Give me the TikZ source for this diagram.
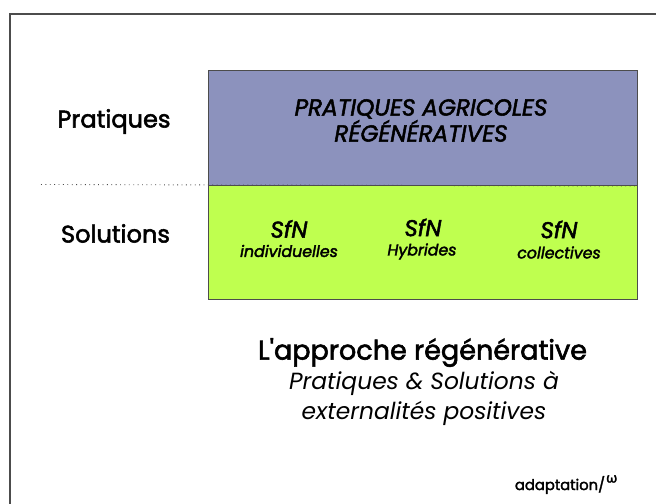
\documentclass[tikz,border=0pt]{standalone}
\usepackage{fontspec}
\setmainfont{Poppins}
\newfontfamily\medfont[FakeBold=2.2,Ligatures=NoCommon]{Poppins}
\newfontfamily\logofont[FakeBold=2.2]{Lato}
\tikzset{
    zone/.style={draw=black!70,line width=0.6pt},
    rowlabel/.style={font=\fontsize{13.7}{16}\selectfont\medfont},
    sfnlabel/.style={font=\fontsize{13}{14}\selectfont\medfont\itshape},
    sfnsub/.style={font=\fontsize{9}{10}\selectfont\medfont\itshape}
}
\definecolor{zoneblue}{HTML}{8C92BD}
\definecolor{zonegreen}{HTML}{BFFF4F}
\begin{document}
\begin{tikzpicture}
    \useasboundingbox (0,0) rectangle (13.12,10.08);
    \coordinate (fa) at (0.2,0);
    \coordinate (fb) at (0.2,9.8);
    \coordinate (fc) at (13.12,9.8);
    \draw[draw=black!70,line width=0.6pt] (fa) -- (fb) -- (fc);

    \node[zone,fill=zoneblue,minimum width=8.58cm,minimum height=2.3cm,anchor=north west,inner sep=0pt] (prat) at (4.16,8.68) {};
    \node[zone,fill=zonegreen,minimum width=8.58cm,minimum height=2.28cm,anchor=north west,inner sep=0pt] (sol) at (4.16,6.38) {};

    \coordinate (dot) at (0.82,6.39);
    \draw[dotted,black!70,line width=0.5pt] (dot) -- (prat.south east);

    \node[rowlabel] (lprat) at (2.28,7.65) {Pratiques};
    \node[rowlabel] (lsol) at (2.31,5.41) {Solutions};

    \node[align=center,font=\fontsize{13.2}{14.8}\selectfont\medfont\itshape] (ttl) at (8.42,7.67) {PRATIQUES AGRICOLES\\RÉGÉNÉRATIVES};

    \node[sfnlabel] (s1) at (5.78,5.50) {SfN};
    \node[sfnsub] (t1) at (5.78,5.06) {individuelles};
    \node[sfnlabel] (s2) at (8.46,5.53) {SfN};
    \node[sfnsub] (t2) at (8.44,5.05) {Hybrides};
    \node[sfnlabel] (s3) at (11.18,5.49) {SfN};
    \node[sfnsub] (t3) at (11.18,5.03) {collectives};

    \node[font=\fontsize{15.4}{17}\selectfont\medfont] (titre) at (8.45,3.03) {L'approche régénérative};
    \node[align=center,font=\fontsize{13.3}{17.2}\selectfont\itshape] (soustitre) at (8.48,2.11) {Pratiques \& Solutions à\\externalités positives};

    \node[font=\fontsize{8.4}{10}\selectfont\medfont,anchor=east,inner sep=0pt] (logo) at (12.11,0.38) {adaptation/};
    \node[font=\fontsize{8}{8}\selectfont\logofont,anchor=west,inner sep=0pt] (logosym) at (12.12,0.50) {ω};
\end{tikzpicture}
\end{document}
